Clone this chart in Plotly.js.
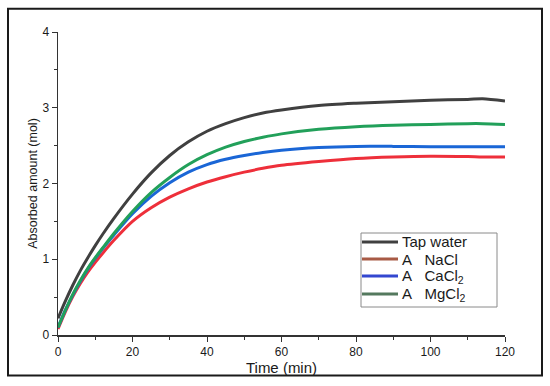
<!DOCTYPE html>
<html>
<head>
<meta charset="utf-8">
<script src="https://cdn.plot.ly/plotly-3.0.1.min.js"></script>
<style>html,body{margin:0;padding:0;background:#fff;}#chart{width:550px;height:386px;}</style>
</head>
<body>
<div id="chart"></div>
<script>
const time     = [0,2,4,6,8,10,12,15,20,25,30,35,40,45,50,55,60,70,80,90,100,110,114,120];
const tapWater = [0.22,0.45,0.66,0.85,1.02,1.18,1.33,1.54,1.86,2.14,2.37,2.55,2.69,2.79,2.87,2.93,2.97,3.03,3.06,3.08,3.10,3.11,3.12,3.09];
const nacl     = [0.08,0.31,0.51,0.68,0.83,0.96,1.08,1.25,1.50,1.68,1.82,1.93,2.02,2.09,2.15,2.20,2.24,2.29,2.33,2.35,2.36,2.355,2.35,2.35];
const cacl2    = [0.10,0.33,0.53,0.71,0.87,1.01,1.14,1.32,1.60,1.83,2.01,2.15,2.25,2.32,2.37,2.41,2.44,2.475,2.49,2.49,2.485,2.485,2.485,2.485];
const mgcl2    = [0.10,0.33,0.54,0.72,0.88,1.02,1.15,1.34,1.63,1.88,2.08,2.25,2.38,2.48,2.555,2.61,2.655,2.715,2.75,2.77,2.78,2.79,2.79,2.78];
const seriesNames  = ['Tap water','A\u00a0\u00a0\u00a0NaCl','A\u00a0\u00a0\u00a0CaCl<sub>2</sub>','A\u00a0\u00a0\u00a0MgCl<sub>2</sub>'];
const seriesColors = ['#404040','#ee2f3a','#1a66d6','#22a05a'];
const legendColors = ['#404040','#a85a45','#3347d0','#54795e'];
const xTicks = [0,20,40,60,80,100,120];
const yTicks = [0,1,2,3,4];

const seriesData = [tapWater, nacl, cacl2, mgcl2];
const traces = seriesData.map((y,i)=>({
  x: time, y: y, type:'scatter', mode:'lines', name: seriesNames[i],
  line:{color: seriesColors[i], width:3, shape:'spline', smoothing:0.8}
}));

const font = {family:'"Liberation Sans", Arial, sans-serif', color:'#1a1a1a'};
const L = 58, R = 45, T = 32, B = 51;
const pw = 550 - L - R, ph = 386 - T - B;
const px = v => (v - L) / pw;          // pixel -> paper x
const py = v => (386 - B - v) / ph;    // pixel -> paper y

// legend drawn as shapes + annotations
const legRows = [242, 259, 276, 294];
const shapes = [
  {type:'rect', xref:'paper', yref:'paper', x0:px(8), x1:px(542), y0:py(375.5), y1:py(8.7),
   line:{color:'#1a1a1a', width:2}, fillcolor:'rgba(0,0,0,0)', layer:'below'},
  {type:'rect', xref:'paper', yref:'paper', x0:px(361), x1:px(497), y0:py(307), y1:py(233),
   line:{color:'#8a8a8a', width:1}, fillcolor:'#ffffff', layer:'above'}
];
const annotations = [];
seriesNames.forEach((n,i)=>{
  shapes.push({type:'line', xref:'paper', yref:'paper', x0:px(362), x1:px(398), y0:py(legRows[i]), y1:py(legRows[i]),
    line:{color:legendColors[i], width:3}, layer:'above'});
  annotations.push({xref:'paper', yref:'paper', x:px(400), y:py(legRows[i]), xanchor:'left', yanchor:'middle',
    text:n, showarrow:false, font:Object.assign({size:15}, font)});
});

const layout = {
  width:550, height:386,
  margin:{l:L, r:R, t:T, b:B, pad:0},
  paper_bgcolor:'#fff', plot_bgcolor:'#fff',
  font: Object.assign({size:12}, font),
  showlegend:false,
  xaxis:{range:[0,120], tickvals:xTicks, ticks:'outside', ticklen:5, tickwidth:1, tickcolor:'#333',
    showline:true, linecolor:'#333', linewidth:1.5, showgrid:false, zeroline:false,
    minor:{dtick:10, tick0:0, ticks:'outside', ticklen:3, tickcolor:'#333', showgrid:false},
    tickfont:Object.assign({size:12}, font),
    title:{text:'Time (min)', font:Object.assign({size:15}, font), standoff:0}},
  yaxis:{range:[0,4], tickvals:yTicks, ticks:'outside', ticklen:5, tickwidth:1, tickcolor:'#333',
    showline:true, linecolor:'#333', linewidth:1.5, showgrid:false, zeroline:false,
    minor:{dtick:0.5, tick0:0, ticks:'outside', ticklen:3, tickcolor:'#333', showgrid:false},
    tickfont:Object.assign({size:12}, font),
    title:{text:'Absorbed amount (mol)', font:Object.assign({size:12.5}, font), standoff:2}},
  shapes: shapes,
  annotations: annotations
};
Plotly.newPlot('chart', traces, layout, {displayModeBar:false, staticPlot:true});
</script>
</body>
</html>
